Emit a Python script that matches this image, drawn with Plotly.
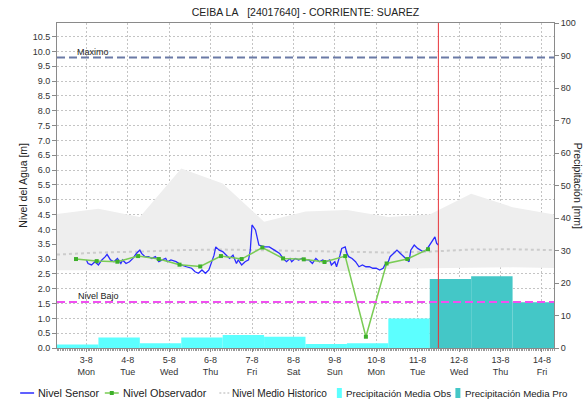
import pandas as pd
import plotly.graph_objects as go

TITLE = "CEIBA LA\u00a0\u00a0\u00a0[24017640] - CORRIENTE: SUAREZ"

# Historic envelope and mean level, one value per day at 07:00 (2-8 .. 14-8)
hist_start = "2020-08-02 07:00"
hist_upper = [4.52, 4.70, 4.42, 6.05, 5.55, 4.26, 4.60, 4.65, 4.42, 4.50, 5.20, 4.75, 4.50]
hist_lower = [2.62, 2.63, 2.62, 2.66, 2.66, 2.66, 2.64, 2.60, 2.66, 2.69, 2.70, 2.72, 2.70]
hist_mean = [3.15, 3.22, 3.25, 3.30, 3.32, 3.30, 3.28, 3.25, 3.22, 3.25, 3.32, 3.33, 3.30]

# Sensor readings: hours after 2020-08-03 00:00 and level in metres
sensor_hours = [0, 1, 3, 5, 7, 9, 11, 12, 14, 16, 18, 20, 21, 23, 25, 27, 29, 31, 32, 34,
                36, 38, 40, 42, 44, 46, 47, 49, 52, 55, 58, 61, 63, 65, 67, 69, 71, 72, 74, 75,
                77, 79, 81, 83, 85, 87, 88, 90, 92, 94, 95, 96, 98, 99, 100, 103, 106, 109, 112, 114,
                116, 118, 119, 121, 123, 125, 127, 129, 131, 133, 135, 137, 139, 141, 142, 144, 145, 147, 148, 150,
                151, 152, 154, 156, 158, 160, 162, 164, 166, 168, 170, 172, 173, 175, 176, 178, 179, 180, 182, 184,
                185, 187, 188, 190, 192, 194, 195, 197, 199, 201, 202, 203, 204]
sensor_level = [2.97, 2.85, 2.80, 2.91, 2.80, 2.97, 3.08, 3.16, 2.97, 2.91, 3.02, 2.85, 2.97, 2.85, 2.91, 3.02, 3.19, 3.30, 3.19, 3.08,
                3.08, 3.02, 3.08, 2.91, 2.97, 3.02, 2.91, 2.97, 2.91, 2.80, 2.74, 2.69, 2.57, 2.52, 2.63, 2.52, 2.63, 2.80, 3.13, 3.41,
                3.30, 3.25, 3.13, 3.02, 3.13, 2.85, 2.97, 2.80, 2.91, 2.97, 3.30, 4.15, 3.98, 3.70, 3.47, 3.41, 3.41, 3.30, 3.19, 3.02,
                2.91, 3.02, 2.91, 3.02, 2.97, 3.02, 2.97, 2.97, 2.85, 3.02, 2.91, 2.97, 2.91, 2.97, 2.80, 2.91, 2.74, 3.13, 3.36, 3.41,
                3.19, 3.08, 3.02, 2.91, 2.74, 2.80, 2.74, 2.74, 2.69, 2.69, 2.63, 2.69, 2.80, 2.91, 3.08, 3.19, 3.25, 3.30, 3.19, 3.08,
                3.02, 2.91, 3.30, 3.47, 3.36, 3.30, 3.25, 3.30, 3.47, 3.64, 3.75, 3.53, 3.47]

# Observer readings every 12 hours (06:00 / 18:00)
obs_start = "2020-08-02 18:00"
obs_level = [3.00, 2.93, 2.91, 3.10, 3.00, 2.81, 2.75, 3.10, 3.00, 3.39,
             3.02, 2.99, 2.90, 3.10, 0.38, 2.85, 3.00, 3.33]

# Daily precipitation in mm, each day counted from 07:00
precip_obs_start = "2020-08-02 07:00"
precip_obs = [1.1, 3.2, 1.5, 3.2, 4.0, 3.5, 1.2, 1.5, 9.1]
precip_pro_start = "2020-08-11 07:00"
precip_pro = [21.2, 22.1, 14.1]

nivel_maximo = 9.8
nivel_bajo = 1.55
now_time = "2020-08-11 12:00"

tick_days = ["3-8", "4-8", "5-8", "6-8", "7-8", "8-8", "9-8", "10-8", "11-8", "12-8", "13-8", "14-8"]
tick_weekdays = ["Mon", "Tue", "Wed", "Thu", "Fri", "Sat", "Sun", "Mon", "Tue", "Wed", "Thu", "Fri"]

FONT = "Liberation Sans, Arial, sans-serif"
C_SENSOR = "#2B2BFF"
C_OBS_LINE = "#7ACC55"
C_OBS_MARK = "#3DB02A"
C_BAND = "#EEEEEE"
C_MEAN = "#CCCCCC"
C_PREC_OBS = "#5CFFFF"
C_PREC_PRO = "#44C7C7"
C_MAX = "#6B7AA6"
C_BAJO = "#F050F0"
C_NOW = "#E8343A"
C_AXIS = "#8A8A8A"
C_GRID = "#C4C4C4"

DAY = pd.Timedelta(days=1)
hist_x = pd.date_range(hist_start, periods=len(hist_upper), freq="D")
sensor_x = pd.Timestamp("2020-08-03") + pd.to_timedelta(sensor_hours, unit="h")
obs_x = pd.date_range(obs_start, periods=len(obs_level), freq="12h")
prec_obs_x = pd.date_range(precip_obs_start, periods=len(precip_obs), freq="D") + DAY / 2
prec_pro_x = pd.date_range(precip_pro_start, periods=len(precip_pro), freq="D") + DAY / 2
tick_x = pd.date_range("2020-08-03", periods=len(tick_days), freq="D")
tick_text = [f"{d}<br>{w}" for d, w in zip(tick_days, tick_weekdays)]

fig = go.Figure()

# precipitation bars on the right-hand (mm) axis, drawn underneath
fig.add_trace(go.Bar(x=prec_obs_x, y=precip_obs, width=DAY.total_seconds() * 1000,
                     marker=dict(color=C_PREC_OBS, line=dict(width=0)),
                     name="Precipitación Media Obs", yaxis="y"))
fig.add_trace(go.Bar(x=prec_pro_x, y=precip_pro, width=DAY.total_seconds() * 1000,
                     marker=dict(color=C_PREC_PRO, line=dict(width=0)),
                     name="Precipitación Media Pro", yaxis="y"))

# historic band
fig.add_trace(go.Scatter(x=hist_x, y=hist_lower, mode="lines", line=dict(width=0),
                         showlegend=False, yaxis="y2", hoverinfo="skip"))
fig.add_trace(go.Scatter(x=hist_x, y=hist_upper, mode="lines", line=dict(width=0),
                         fill="tonexty", fillcolor=C_BAND, showlegend=False,
                         yaxis="y2", hoverinfo="skip"))
fig.add_trace(go.Scatter(x=hist_x, y=hist_mean, mode="lines",
                         line=dict(color=C_MEAN, width=2, dash="3px,3px"),
                         name="Nivel Medio Historico", yaxis="y2"))
fig.add_trace(go.Scatter(x=sensor_x, y=sensor_level, mode="lines",
                         line=dict(color=C_SENSOR, width=1.3),
                         name="Nivel Sensor", yaxis="y2"))
fig.add_trace(go.Scatter(x=obs_x, y=obs_level, mode="lines+markers",
                         line=dict(color=C_OBS_LINE, width=1.5),
                         marker=dict(symbol="square", size=4, color=C_OBS_MARK),
                         name="Nivel Observador", yaxis="y2"))

# plot-area geometry in pixels
W, H = 588, 403
PL, PR, PT, PB = 57, 556, 23, 348
PW, PH = PR - PL, PB - PT


def fx(px):
    return (px - PL) / PW


def fy(py):
    return (PB - py) / PH


shapes = [
    dict(type="line", xref="paper", yref="y2", x0=0, x1=1, y0=nivel_maximo, y1=nivel_maximo,
         line=dict(color=C_MAX, width=2, dash="8px,4px"), layer="above"),
    dict(type="line", xref="paper", yref="y2", x0=0, x1=1, y0=nivel_bajo, y1=nivel_bajo,
         line=dict(color=C_BAJO, width=2, dash="8px,4px"), layer="above"),
    dict(type="line", xref="x", yref="paper", x0=now_time, x1=now_time, y0=0, y1=1,
         line=dict(color=C_NOW, width=1), layer="above"),
]

annotations = [
    dict(text="Maximo", xref="paper", yref="y2", x=fx(76), y=nivel_maximo, yanchor="bottom",
         xanchor="left", showarrow=False, font=dict(family=FONT, size=9, color="#222"),
         borderpad=0, yshift=-1),
    dict(text="Nivel Bajo", xref="paper", yref="y2", x=fx(77), y=nivel_bajo, yanchor="bottom",
         xanchor="left", showarrow=False, font=dict(family=FONT, size=9, color="#222"),
         borderpad=0, yshift=0),
    dict(text="Nivel del Agua [m]", xref="paper", yref="paper", x=fx(22), y=0.5,
         xanchor="center", yanchor="middle", textangle=-90, showarrow=False, borderpad=0,
         font=dict(family=FONT, size=10.5, color="#222")),
    dict(text="Precipitación [mm]", xref="paper", yref="paper", x=fx(588), y=0.5,
         xanchor="right", yanchor="middle", textangle=90, showarrow=False, borderpad=0,
         font=dict(family=FONT, size=10.5, color="#222")),
]

# legend row along the bottom
LY = 393
legend_items = [
    ("line", C_SENSOR, 20, 34, "Nivel Sensor", 37, 10.8),
    ("marker", C_OBS_LINE, 105, 119, "Nivel Observador", 122, 10.8),
    ("dots", C_MEAN, 220, 230, "Nivel Medio Historico", 232, 10.1),
    ("box", C_PREC_OBS, 338, 343, "Precipitación Media Obs", 346, 9.7),
    ("box", C_PREC_PRO, 457, 462, "Precipitación Media Pro", 466, 9.7),
]
for kind, color, x0, x1, label, tx, fs in legend_items:
    if kind == "box":
        shapes.append(dict(type="rect", xref="paper", yref="paper", x0=fx(x0), x1=fx(x1),
                           y0=fy(LY - 5), y1=fy(LY + 5), line=dict(width=0), fillcolor=color))
    else:
        dash = "2px,2px" if kind == "dots" else "solid"
        shapes.append(dict(type="line", xref="paper", yref="paper", x0=fx(x0), x1=fx(x1),
                           y0=fy(LY), y1=fy(LY), line=dict(color=color, width=1.5, dash=dash)))
        if kind == "marker":
            mx = (x0 + x1) / 2
            shapes.append(dict(type="rect", xref="paper", yref="paper", x0=fx(mx - 2), x1=fx(mx + 2),
                               y0=fy(LY - 2), y1=fy(LY + 2), line=dict(width=0), fillcolor=C_OBS_MARK))
    annotations.append(dict(text=label, xref="paper", yref="paper", x=fx(tx), y=fy(LY),
                            xanchor="left", yanchor="middle", showarrow=False, borderpad=0,
                            font=dict(family=FONT, size=fs, color="#222")))

fig.update_layout(
    width=W, height=H,
    margin=dict(l=PL, r=W - PR, t=PT, b=H - PB, pad=0),
    paper_bgcolor="white", plot_bgcolor="white",
    font=dict(family=FONT, size=9, color="#333"),
    title=dict(text=TITLE, x=fx((PL + PR) / 2), xref="paper", y=1 - 12 / H, yref="container",
               xanchor="center", yanchor="middle", font=dict(family=FONT, size=10.5, color="#222")),
    showlegend=False,
    barmode="overlay",
    xaxis=dict(type="date", range=["2020-08-02 07:00", "2020-08-14 07:00"],
               tickvals=tick_x, ticktext=tick_text, tickfont=dict(size=9, color="#333"),
               ticks="outside", ticklen=3, tickcolor=C_AXIS,
               showgrid=True, gridcolor=C_GRID, griddash="2px,2px", gridwidth=1,
               showline=True, linecolor=C_AXIS, linewidth=1, mirror=True,
               minor=dict(dtick=3600000, ticks="outside", ticklen=2, tickcolor="#9A9A9A", showgrid=False),
               zeroline=False),
    yaxis=dict(side="right", range=[0, 100], dtick=10, tickfont=dict(size=9, color="#333"),
               ticks="outside", ticklen=4, tickcolor=C_AXIS, showgrid=False,
               showline=True, linecolor=C_AXIS, linewidth=1, zeroline=False),
    yaxis2=dict(side="left", overlaying="y", range=[0, 10.96], dtick=0.5, tickformat=".1f",
                tickfont=dict(size=9, color="#333"), ticks="outside", ticklen=4, tickcolor=C_AXIS,
                showgrid=True, gridcolor=C_GRID, griddash="2px,2px", gridwidth=1,
                showline=True, linecolor=C_AXIS, linewidth=1, zeroline=False),
    shapes=shapes,
    annotations=annotations,
)

fig.write_html("out.html")
